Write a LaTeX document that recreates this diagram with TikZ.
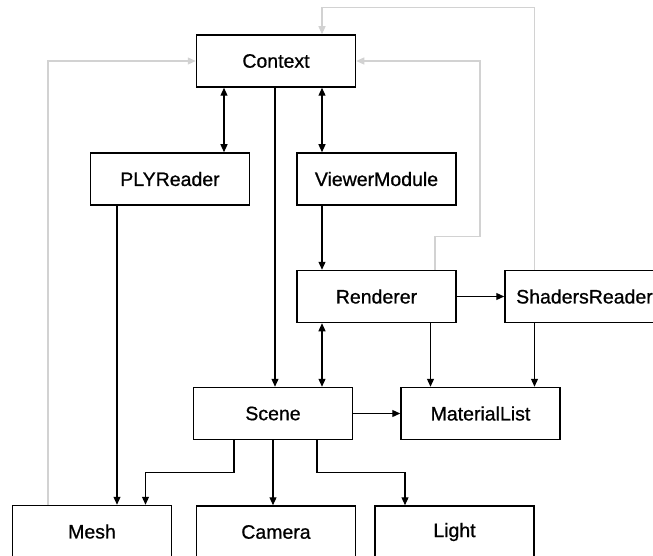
\documentclass[tikz,border=0pt]{standalone}
\usepackage{fontspec}
\setmainfont{Liberation Sans}
\newfontfamily\boxfont[FakeBold=0.8]{Liberation Sans}
\usetikzlibrary{arrows.meta}
\begin{document}
\begin{tikzpicture}[x=1pt,y=-1pt,
  box/.style={draw=black, line width=1.5pt, minimum width=159pt, minimum height=52pt, inner sep=0pt, font=\boxfont\fontsize{19.5}{22}\selectfont},
  conn/.style={line width=1.2pt, -{Triangle[length=8pt,width=7pt]}},
  both/.style={line width=1.2pt, {Triangle[length=8pt,width=7pt]}-{Triangle[length=8pt,width=7pt]}},
  back/.style={draw=gray!35, line width=1.2pt, -{Triangle[length=8pt,width=7pt,fill=gray!35]}}]
\useasboundingbox (0,0) rectangle (653,556);
\clip (0,0) rectangle (653,556);
% boxes
\node[box] (Context) at (276,61) {Context};
\node[box] (PLYReader) at (170,179) {PLYReader};
\node[box] (ViewerModule) at (376.5,179) {ViewerModule};
\node[box] (Renderer) at (376.5,296.5) {Renderer};
\node[box] (ShadersReader) at (584.5,296.5) {ShadersReader};
\node[box] (Scene) at (273,413.5) {Scene};
\node[box] (MaterialList) at (480.5,413.5) {MaterialList};
\node[box] (Mesh) at (92,531.5) {Mesh};
\node[box] (Camera) at (276,532) {Camera};
\node[box] (Light) at (454.5,532) {Light};
% columns and rows
\coordinate (xa) at (224,0);
\coordinate (xb) at (322,0);
\coordinate (xc) at (275,0);
\coordinate (xd) at (117,0);
\coordinate (xe) at (430.5,0);
\coordinate (xf) at (534.5,0);
\coordinate (xg) at (234,0);
\coordinate (xh) at (145.5,0);
\coordinate (xi) at (273,0);
\coordinate (xj) at (317,0);
\coordinate (xk) at (405,0);
\coordinate (xl) at (48,0);
\coordinate (xm) at (435,0);
\coordinate (xn) at (480,0);
\coordinate (yb) at (0,472.7);
\coordinate (yc) at (0,236.7);
\coordinate (yd) at (0,7.3);
% black connectors
\draw[both] (Context.south -| xa) -- (PLYReader.north -| xa);
\draw[both] (Context.south -| xb) -- (ViewerModule.north -| xb);
\draw[conn] (Context.south -| xc) -- (Scene.north -| xc);
\draw[conn] (ViewerModule.south -| xb) -- (Renderer.north -| xb);
\draw[conn] (PLYReader.south -| xd) -- (Mesh.north -| xd);
\draw[conn] (Renderer.east) -- (ShadersReader.west);
\draw[both] (Renderer.south -| xb) -- (Scene.north -| xb);
\draw[conn] (Renderer.south -| xe) -- (MaterialList.north -| xe);
\draw[conn] (ShadersReader.south -| xf) -- (MaterialList.north -| xf);
\draw[conn] (Scene.east) -- (MaterialList.west);
\draw[conn] (Scene.south -| xg) -- (xg |- yb) -- (xh |- yb) -- (Mesh.north -| xh);
\draw[conn] (Scene.south -| xi) -- (Camera.north -| xi);
\draw[conn] (Scene.south -| xj) -- (xj |- yb) -- (xk |- yb) -- (Light.north -| xk);
% gray return connectors
\draw[back] (Mesh.north -| xl) |- (Context.west);
\draw[back] (Renderer.north -| xm) -- (xm |- yc) -- (xn |- yc) |- (Context.east);
\draw[back] (ShadersReader.north -| xf) |- (xb |- yd) -- (Context.north -| xb);
\end{tikzpicture}
\end{document}
